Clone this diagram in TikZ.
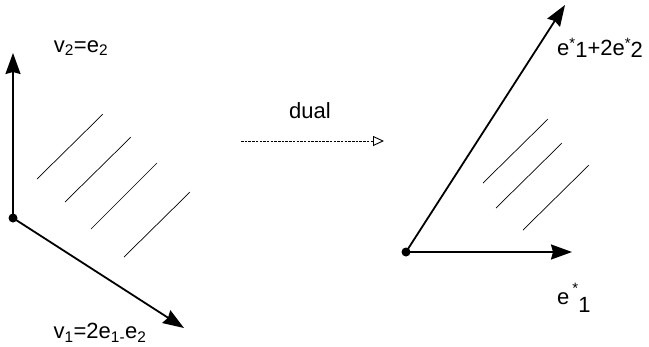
\documentclass[tikz,border=0pt]{standalone}
\usepackage{fontspec}
\setmainfont{Liberation Sans}
\usetikzlibrary{arrows.meta}
\newcommand{\dualvec}[1]{e\raisebox{7pt}{\fontsize{15}{15}\selectfont *}\raisebox{-2pt}{#1}}

\begin{document}
\begin{tikzpicture}[
            x=1pt, y=-1pt,
            vec/.style={-{Stealth[length=21pt, width=15pt, inset=2pt]}, line width=1.8pt, black},
            hatch/.style={line width=0.7pt, black},
            maparrow/.style={-{Triangle[open, length=11pt, width=10pt]}, line width=0.9pt, dash pattern=on 2.5pt off 1.2pt},
            lbl/.style={font=\fontsize{22}{26}\selectfont, inner sep=0pt}
        ]
            \useasboundingbox (0,0) rectangle (649,346);

            % left: primal cone
            \coordinate (o1) at (13,218);
            \coordinate (v2tip) at (13,53);
            \coordinate (v1tip) at (184,328);
            \draw[vec] (o1) -- (v2tip);
            \draw[vec] (o1) -- (v1tip);
            \fill (o1) circle (4.5pt);
            \node[lbl] (v2) at (81,48) {v\textsubscript{2}=e\textsubscript{2}};
            \node[lbl] (v1) at (100,333) {v\textsubscript{1}=2e\textsubscript{1-}e\textsubscript{2}};

            \draw[hatch] (37,179) -- (103,114);
            \draw[hatch] (65,202) -- (131,137);
            \draw[hatch] (91,229) -- (157,163);
            \draw[hatch] (124,257) -- (190,192);

            % the map
            \coordinate (mapstart) at (241,141);
            \coordinate (mapend) at (384,141);
            \draw[maparrow] (mapstart) -- (mapend);
            \node[lbl] (dual) at (310,111) {dual};

            % right: dual cone
            \coordinate (o2) at (406,252);
            \coordinate (e1tip) at (572,252);
            \coordinate (sumtip) at (565,5);
            \draw[vec] (o2) -- (e1tip);
            \draw[vec] (o2) -- (sumtip);
            \fill (o2) circle (4.5pt);
            \node[lbl, anchor=west] (sum) at (557,48) {\dualvec{1}+2\dualvec{2}};
            \node[lbl, anchor=west] (e1) at (557,298) {e\hspace{3pt}\rlap{\raisebox{11pt}{\fontsize{15}{15}\selectfont *}}\raisebox{-8pt}{\hspace{6pt}1}};

            \draw[hatch] (483,183) -- (548,119);
            \draw[hatch] (496,208) -- (562,143);
            \draw[hatch] (523,230) -- (589,165);
        \end{tikzpicture}
\end{document}
